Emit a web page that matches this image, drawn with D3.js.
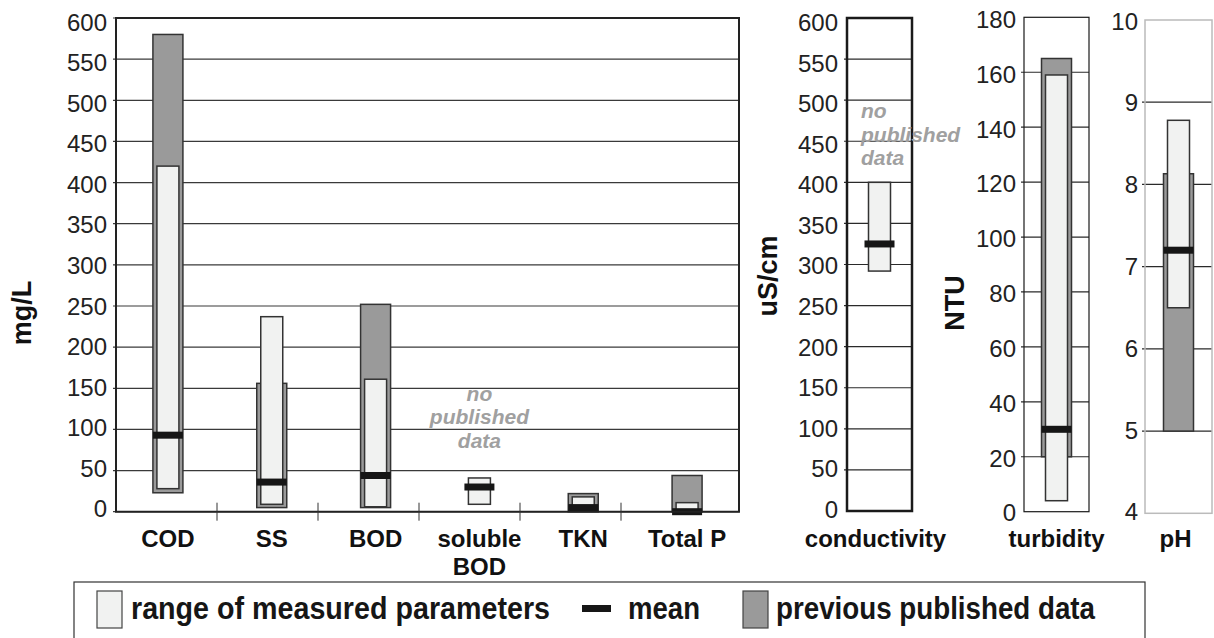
<!DOCTYPE html>
<html>
<head>
<meta charset="utf-8">
<script src="https://cdn.jsdelivr.net/npm/d3@7/dist/d3.min.js"></script>
<style>
  body { margin: 0; background: #fff; }
  svg { display: block; font-family: 'Liberation Sans', Arial, Helvetica, sans-serif; }
</style>
</head>
<body>
<div id="chart"></div>
<script>
// main panel (mg/L)
const mainCategories = ['COD', 'SS', 'BOD', 'soluble BOD', 'TKN', 'Total P'];
const mainRangeLow = [28, 9, 6, 9, 3, 1];
const mainRangeHigh = [420, 237, 161, 41, 18, 11];
const mainMean = [93, 36, 44, 30, 5, 0];
const mainPrevLow = [23, 5, 5, null, 0, 0];
const mainPrevHigh = [580, 156, 252, null, 22, 44];
const mainTicks = d3.range(0, 601, 50);

// side panels
const sideCategories = ['conductivity', 'turbidity', 'pH'];
const sideUnits = ['uS/cm', 'NTU', null];
const sideRangeLow = [292, 4, 6.5];
const sideRangeHigh = [400, 159, 8.78];
const sideMean = [325, 30, 7.2];
const sidePrevLow = [null, 20, 5.0];
const sidePrevHigh = [null, 165, 8.13];
const sideDomains = [[0, 600], [0, 180], [4, 10]];
const sideTicks = [d3.range(0, 601, 50), d3.range(0, 181, 20), d3.range(4, 11, 1)];

const legendLabels = ['range of measured parameters', 'mean', 'previous published data'];

const width = 1214;
const height = 638;

const colRange = '#f1f2f1';
const colPrev = '#9a9a9a';
const colMean = '#161616';
const colEdge = '#333';

const svg = d3.select('#chart').append('svg').attr('width', width).attr('height', height);

// box-and-mean marks for one category
const drawMarks = (g, cx, y, prevLo, prevHi, lo, hi, mean) => {
	if (prevLo != null) {
		g.append('rect')
			.attr('x', cx - 15)
			.attr('y', y(prevHi))
			.attr('width', 30)
			.attr('height', y(prevLo) - y(prevHi))
			.attr('fill', colPrev)
			.attr('stroke', colEdge)
			.attr('stroke-width', 1.5);
	}
	g.append('rect')
		.attr('x', cx - 11)
		.attr('y', y(hi))
		.attr('width', 22)
		.attr('height', y(lo) - y(hi))
		.attr('fill', colRange)
		.attr('stroke', colEdge)
		.attr('stroke-width', 1.5);
	g.append('rect')
		.attr('x', cx - 15)
		.attr('y', y(mean) - 3.5)
		.attr('width', 30)
		.attr('height', 7)
		.attr('fill', colMean);
};

// labels drift a little against their grid lines in the original
const labelY = (y, d, off) => {
	const [lo, hi] = y.domain();
	return y(d) + off[0] + (off[1] - off[0]) * (d - lo) / (hi - lo) + 8.7;
};

const drawGrid = (g, x0, x1, y, ticks, labelTicks, labelGap, gridColor, off) => {
	g.selectAll('line.grid')
		.data(ticks)
		.enter()
		.append('line')
		.attr('class', 'grid')
		.attr('x1', x0 - 3)
		.attr('x2', x1)
		.attr('y1', (d) => y(d))
		.attr('y2', (d) => y(d))
		.attr('stroke', gridColor)
		.attr('stroke-width', 1.2);

	g.selectAll('text.tick')
		.data(labelTicks)
		.enter()
		.append('text')
		.attr('class', 'tick')
		.attr('x', x0 - labelGap)
		.attr('y', (d) => labelY(y, d, off))
		.attr('text-anchor', 'end')
		.attr('font-size', 24)
		.attr('fill', '#222')
		.text((d) => d);
};

const noDataText = (g, x, yBase, anchor) => {
	['no', 'published', 'data'].forEach((t, i) => {
		g.append('text')
			.attr('x', x)
			.attr('y', yBase + i * 23.5)
			.attr('text-anchor', anchor)
			.attr('font-size', 21)
			.attr('font-weight', 'bold')
			.attr('font-style', 'italic')
			.attr('fill', '#a0a0a0')
			.text(t);
	});
};

const axisLabel = (x, y, text, size) => {
	svg.append('text')
		.attr('transform', `translate(${x},${y}) rotate(-90)`)
		.attr('text-anchor', 'middle')
		.attr('dominant-baseline', 'central')
		.attr('font-size', size)
		.attr('font-weight', 'bold')
		.attr('fill', '#111')
		.text(text);
};

// ---------- main panel ----------
const main = svg.append('g');
const xMain = d3.scaleBand().domain(mainCategories).range([116, 739]);
const xDivider = d3.scaleBand().domain(mainCategories).range([116, 722]);
const yMain = d3.scaleLinear().domain([0, 600]).range([511.7, 18]);

drawGrid(main, 116, 739, yMain, mainTicks, mainTicks, 9, '#3a3a3a', [-3, 4]);

mainCategories.forEach((c, i) => {
	drawMarks(
		main,
		xMain(c) + xMain.bandwidth() / 2,
		yMain,
		mainPrevLow[i],
		mainPrevHigh[i],
		mainRangeLow[i],
		mainRangeHigh[i],
		mainMean[i]
	);
});

main.append('path')
	.attr('d', `M116,${yMain(0)}V${yMain(600)}H739V${yMain(0)}Z`)
	.attr('fill', 'none')
	.attr('stroke', '#222')
	.attr('stroke-width', 2);

main.selectAll('line.div')
	.data(mainCategories.slice(1))
	.enter()
	.append('line')
	.attr('class', 'div')
	.attr('x1', (d) => xDivider(d))
	.attr('x2', (d) => xDivider(d))
	.attr('y1', yMain(0) - 9)
	.attr('y2', yMain(0) + 9)
	.attr('stroke', '#333')
	.attr('stroke-width', 1);

main.selectAll('text.cat')
	.data(mainCategories)
	.enter()
	.append('text')
	.attr('class', 'cat')
	.attr('x', (d) => xMain(d) + xMain.bandwidth() / 2)
	.attr('y', 547)
	.attr('text-anchor', 'middle')
	.attr('font-size', 24)
	.attr('font-weight', 'bold')
	.attr('fill', '#111')
	.each(function (d) {
		const words = d === 'soluble BOD' ? ['soluble', 'BOD'] : [d];
		const t = d3.select(this);
		words.forEach((w, k) => {
			t.append('tspan')
				.attr('x', xMain(d) + xMain.bandwidth() / 2)
				.attr('dy', k === 0 ? 0 : 28)
				.text(w);
		});
	});

noDataText(main, xMain('soluble BOD') + xMain.bandwidth() / 2, yMain(135), 'middle');
axisLabel(22, 313, 'mg/L', 27);

// ---------- side panels ----------
const sideX = [[847, 912], [1024, 1089], [1145, 1212]];
const sideYRange = [[511, 18], [511.7, 17.3], [513.3, 20]];
const sideBorder = [
	{ color: '#1a1a1a', w: 2.5 },
	{ color: '#1a1a1a', w: 1.2 },
	{ color: '#bbbbbb', w: 1.5 }
];
const sideLabelGap = [9, 8, 7];
const sideLabelOff = [[-2, 4.5], [1, 2], [-1.6, 1]];
const sideUnitPos = [[768, 276], [955, 303]];

sideCategories.forEach((c, i) => {
	const g = svg.append('g');
	const [x0, x1] = sideX[i];
	const x = d3.scaleBand().domain([c]).range([x0, x1]);
	const y = d3.scaleLinear().domain(sideDomains[i]).range(sideYRange[i]);
	const inner = sideTicks[i].slice(1, -1);

	drawGrid(g, x0, x1, y, inner, sideTicks[i], sideLabelGap[i], '#2a2a2a', sideLabelOff[i]);

	drawMarks(
		g,
		x(c) + x.bandwidth() / 2,
		y,
		sidePrevLow[i],
		sidePrevHigh[i],
		sideRangeLow[i],
		sideRangeHigh[i],
		sideMean[i]
	);

	g.append('rect')
		.attr('x', x0)
		.attr('y', y(sideDomains[i][1]))
		.attr('width', x1 - x0)
		.attr('height', y(sideDomains[i][0]) - y(sideDomains[i][1]))
		.attr('fill', 'none')
		.attr('stroke', sideBorder[i].color)
		.attr('stroke-width', sideBorder[i].w);

	g.append('text')
		.attr('x', x(c) + x.bandwidth() / 2 - (i === 0 ? 4 : i === 2 ? 3 : 0))
		.attr('y', 547)
		.attr('text-anchor', 'middle')
		.attr('font-size', 24)
		.attr('font-weight', 'bold')
		.attr('fill', '#111')
		.text(c);

	if (sideUnits[i]) axisLabel(sideUnitPos[i][0], sideUnitPos[i][1], sideUnits[i], 27);
	if (sidePrevLow[i] == null) noDataText(g, x0 + 14, y(478), 'start');
});

// ---------- legend ----------
const legend = svg.append('g');
legend.append('rect')
	.attr('x', 74)
	.attr('y', 582)
	.attr('width', 1071)
	.attr('height', 90)
	.attr('fill', 'none')
	.attr('stroke', '#333')
	.attr('stroke-width', 1.2);

legend.append('rect')
	.attr('x', 97).attr('y', 591).attr('width', 25).attr('height', 37)
	.attr('fill', colRange).attr('stroke', '#444').attr('stroke-width', 1.2);
legend.append('rect')
	.attr('x', 582).attr('y', 605).attr('width', 29).attr('height', 7)
	.attr('fill', colMean);
legend.append('rect')
	.attr('x', 743).attr('y', 591).attr('width', 25).attr('height', 37)
	.attr('fill', colPrev).attr('stroke', '#444').attr('stroke-width', 1.2);

const legendX = [131, 628, 776];
const legendW = [419, 72, 319];
legend.selectAll('text')
	.data(legendLabels)
	.enter()
	.append('text')
	.attr('x', (d, i) => legendX[i])
	.attr('y', 619)
	.attr('font-size', 32)
	.attr('font-weight', 'bold')
	.attr('fill', '#161616')
	.attr('textLength', (d, i) => legendW[i])
	.attr('lengthAdjust', 'spacingAndGlyphs')
	.text((d) => d);
</script>
</body>
</html>
